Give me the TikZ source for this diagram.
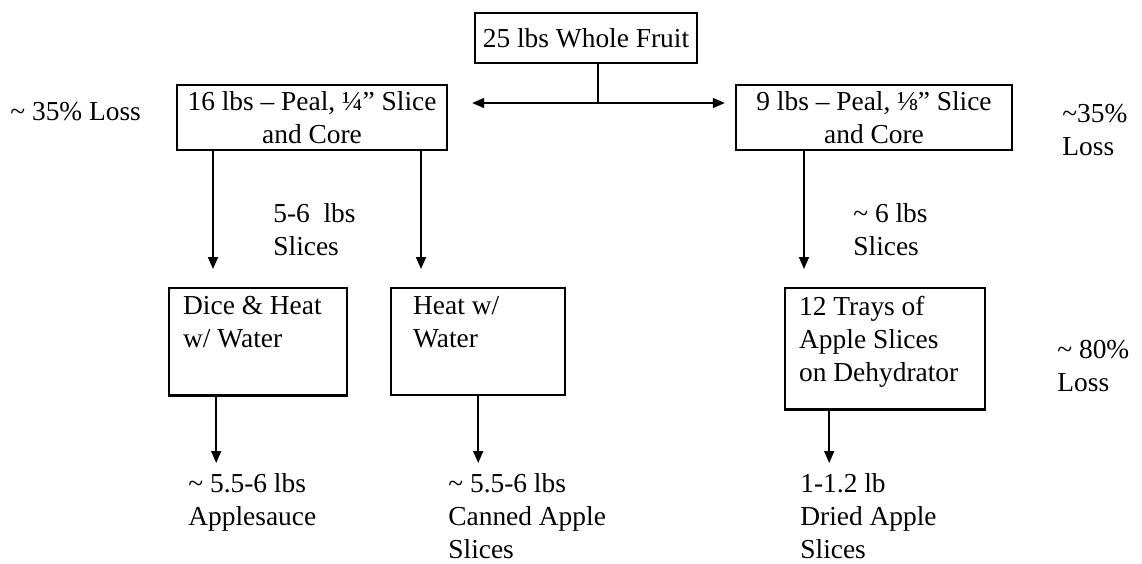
\documentclass[tikz,border=0pt]{standalone}
\usepackage{fontspec}
\setmainfont{Liberation Serif}
\usepackage{tikz}
\usetikzlibrary{arrows.meta, positioning, calc}

% extra room below the last line of a box
\newcommand{\padbox}[1]{\rule[-#1]{0pt}{#1}}

\begin{document}
\begin{tikzpicture}[
        x=0.5pt, y=-0.5pt,
        font=\fontsize{13.7}{16.5}\selectfont,
        box/.style={rectangle, draw, line width=1.2pt, align=center, inner sep=0pt},
        stepbox/.style={rectangle, draw, line width=1.2pt, align=flush left, anchor=north west, inner ysep=4pt},
        lbl/.style={align=flush left, inner sep=0pt, anchor=north west},
        arrow/.style={-{Triangle[length=6pt, width=5pt]}, line width=0.8pt}
    ]
    \useasboundingbox (0,0) rectangle (1142,563);

    \node (whole) [box, minimum width=111pt, minimum height=25pt] at (586,38) {25 lbs Whole Fruit};
    \node (peal16) [box, minimum width=135pt, minimum height=32.5pt] at (312,117.5) {16 lbs -- Peal, ¼” Slice\\and Core};
    \node (peal9) [box, minimum width=138pt, minimum height=32.5pt] at (874,117.5) {9 lbs -- Peal, ⅛” Slice\\and Core};

    \node (dice) [stepbox, inner xsep=7pt, text width=75pt] at (168,287) {Dice \& Heat\\w/ Water\padbox{20pt}};
    \node (heat) [stepbox, inner xsep=11pt, text width=65pt] at (390,287) {Heat w/\\Water\padbox{20pt}};
    \node (trays) [stepbox, inner xsep=7pt, text width=86pt] at (784,287) {12 Trays of\\Apple Slices\\on Dehydrator\padbox{10pt}};

    \node (loss16) [lbl] at (10,102) {\textasciitilde{} 35\% Loss};
    \node (loss9) [lbl] at (1062,104) {\textasciitilde35\%\\Loss};
    \node (slices16) [lbl] at (273,203) {5-6\ \ lbs\\Slices};
    \node (slices9) [lbl] at (853,203) {\textasciitilde{} 6 lbs\\Slices};
    \node (loss80) [lbl] at (1057,340) {\textasciitilde{} 80\%\\Loss};

    \node (sauce) [lbl] at (188,473) {\textasciitilde{} 5.5-6 lbs\\Applesauce};
    \node (canned) [lbl] at (448,473) {\textasciitilde{} 5.5-6 lbs\\Canned Apple\\Slices};
    \node (dried) [lbl] at (800,473) {1-1.2 lb\\Dried Apple\\Slices};

    \coordinate (split) at (598,103);
    \draw[line width=0.8pt] (whole.south -| split) -- (split);
    \draw[arrow, shorten >=12pt] (split) -- (split -| peal16.east);
    \draw[arrow, shorten >=5pt] (split) -- (split -| peal9.west);

    \draw[arrow, shorten >=9pt] ([xshift=-49.5pt]peal16.south) -- ([xshift=-49.5pt]peal16.south |- dice.north);
    \draw[arrow, shorten >=9pt] ([xshift=54.5pt]peal16.south) -- ([xshift=54.5pt]peal16.south |- heat.north);
    \draw[arrow, shorten >=9pt] ([xshift=-35pt]peal9.south) -- ([xshift=-35pt]peal9.south |- trays.north);

    \draw[arrow, shorten >=5pt] ([xshift=-21pt]dice.south) -- ([xshift=-21pt]dice.south |- sauce.north);
    \draw[arrow, shorten >=5pt] (heat.south) -- (heat.south |- canned.north);
    \draw[arrow, shorten >=5pt] ([xshift=-28pt]trays.south) -- ([xshift=-28pt]trays.south |- dried.north);

\end{tikzpicture}
\end{document}
